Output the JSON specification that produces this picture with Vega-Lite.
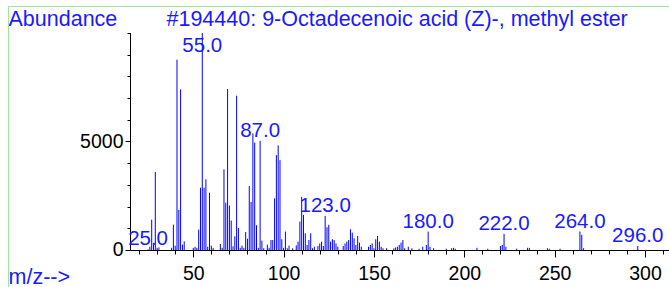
{
  "$schema": "https://vega.github.io/schema/vega-lite/v6.json",
  "width": 661,
  "height": 281,
  "autosize": "none",
  "padding": {"left": 8, "top": 6, "right": 0, "bottom": 0},
  "background": "white",
  "config": {
    "view": {"stroke": null},
    "font": "Liberation Sans",
    "axis": {"grid": false, "domain": false, "tickColor": "black", "labelColor": "black", "labelFont": "Liberation Sans", "titleFont": "Liberation Sans", "titleFontWeight": "normal", "titleColor": "#1a1aff", "titleFontSize": 21.5, "labelFontSize": 19.5, "tickWidth": 1}
  },
  "data": {
    "values": [
      {"mz": 25, "abundance": 30, "label": "25.0"},
      {"mz": 26, "abundance": 150},
      {"mz": 27, "abundance": 1400},
      {"mz": 28, "abundance": 250},
      {"mz": 29, "abundance": 3600},
      {"mz": 30, "abundance": 100},
      {"mz": 31, "abundance": 120},
      {"mz": 38, "abundance": 100},
      {"mz": 39, "abundance": 1170},
      {"mz": 40, "abundance": 200},
      {"mz": 41, "abundance": 8770},
      {"mz": 42, "abundance": 1850},
      {"mz": 43, "abundance": 7400},
      {"mz": 44, "abundance": 250},
      {"mz": 45, "abundance": 400},
      {"mz": 50, "abundance": 100},
      {"mz": 51, "abundance": 150},
      {"mz": 52, "abundance": 100},
      {"mz": 53, "abundance": 940},
      {"mz": 54, "abundance": 2870},
      {"mz": 55, "abundance": 10000, "label": "55.0"},
      {"mz": 56, "abundance": 2870},
      {"mz": 57, "abundance": 3260},
      {"mz": 58, "abundance": 150},
      {"mz": 59, "abundance": 2640},
      {"mz": 60, "abundance": 200},
      {"mz": 61, "abundance": 100},
      {"mz": 65, "abundance": 280},
      {"mz": 66, "abundance": 100},
      {"mz": 67, "abundance": 3720},
      {"mz": 68, "abundance": 2180},
      {"mz": 69, "abundance": 7420},
      {"mz": 70, "abundance": 2050},
      {"mz": 71, "abundance": 1360},
      {"mz": 72, "abundance": 170},
      {"mz": 73, "abundance": 630},
      {"mz": 74, "abundance": 7110},
      {"mz": 75, "abundance": 1020},
      {"mz": 76, "abundance": 100},
      {"mz": 77, "abundance": 200},
      {"mz": 78, "abundance": 100},
      {"mz": 79, "abundance": 830},
      {"mz": 80, "abundance": 520},
      {"mz": 81, "abundance": 2950},
      {"mz": 82, "abundance": 2220},
      {"mz": 83, "abundance": 5370},
      {"mz": 84, "abundance": 4950},
      {"mz": 85, "abundance": 1140},
      {"mz": 86, "abundance": 100},
      {"mz": 87, "abundance": 5030, "label": "87.0"},
      {"mz": 88, "abundance": 430},
      {"mz": 89, "abundance": 80},
      {"mz": 91, "abundance": 250},
      {"mz": 92, "abundance": 100},
      {"mz": 93, "abundance": 460},
      {"mz": 94, "abundance": 460},
      {"mz": 95, "abundance": 2380},
      {"mz": 96, "abundance": 4370},
      {"mz": 97, "abundance": 4820},
      {"mz": 98, "abundance": 4140},
      {"mz": 99, "abundance": 495},
      {"mz": 100, "abundance": 100},
      {"mz": 101, "abundance": 850},
      {"mz": 102, "abundance": 80},
      {"mz": 103, "abundance": 200},
      {"mz": 105, "abundance": 80},
      {"mz": 107, "abundance": 215},
      {"mz": 108, "abundance": 385},
      {"mz": 109, "abundance": 1310},
      {"mz": 110, "abundance": 2450},
      {"mz": 111, "abundance": 1620},
      {"mz": 112, "abundance": 770},
      {"mz": 113, "abundance": 230},
      {"mz": 114, "abundance": 460},
      {"mz": 115, "abundance": 770},
      {"mz": 116, "abundance": 80},
      {"mz": 117, "abundance": 150},
      {"mz": 119, "abundance": 185},
      {"mz": 120, "abundance": 300},
      {"mz": 121, "abundance": 385},
      {"mz": 122, "abundance": 185},
      {"mz": 123, "abundance": 1570, "label": "123.0"},
      {"mz": 124, "abundance": 1050},
      {"mz": 125, "abundance": 1160},
      {"mz": 126, "abundance": 385},
      {"mz": 127, "abundance": 495},
      {"mz": 128, "abundance": 460},
      {"mz": 129, "abundance": 300},
      {"mz": 130, "abundance": 150},
      {"mz": 133, "abundance": 185},
      {"mz": 134, "abundance": 300},
      {"mz": 135, "abundance": 385},
      {"mz": 136, "abundance": 460},
      {"mz": 137, "abundance": 955},
      {"mz": 138, "abundance": 800},
      {"mz": 139, "abundance": 540},
      {"mz": 140, "abundance": 230},
      {"mz": 141, "abundance": 650},
      {"mz": 142, "abundance": 340},
      {"mz": 143, "abundance": 150},
      {"mz": 147, "abundance": 150},
      {"mz": 148, "abundance": 230},
      {"mz": 149, "abundance": 300},
      {"mz": 150, "abundance": 80},
      {"mz": 151, "abundance": 495},
      {"mz": 152, "abundance": 650},
      {"mz": 153, "abundance": 385},
      {"mz": 154, "abundance": 150},
      {"mz": 155, "abundance": 80},
      {"mz": 157, "abundance": 80},
      {"mz": 161, "abundance": 80},
      {"mz": 162, "abundance": 120},
      {"mz": 163, "abundance": 150},
      {"mz": 164, "abundance": 230},
      {"mz": 165, "abundance": 340},
      {"mz": 166, "abundance": 460},
      {"mz": 167, "abundance": 80},
      {"mz": 169, "abundance": 150},
      {"mz": 171, "abundance": 80},
      {"mz": 175, "abundance": 60},
      {"mz": 177, "abundance": 150},
      {"mz": 179, "abundance": 230},
      {"mz": 180, "abundance": 850, "label": "180.0"},
      {"mz": 181, "abundance": 150},
      {"mz": 183, "abundance": 80},
      {"mz": 190, "abundance": 60},
      {"mz": 193, "abundance": 80},
      {"mz": 194, "abundance": 100},
      {"mz": 195, "abundance": 60},
      {"mz": 207, "abundance": 100},
      {"mz": 213, "abundance": 60},
      {"mz": 220, "abundance": 185},
      {"mz": 221, "abundance": 230},
      {"mz": 222, "abundance": 740, "label": "222.0"},
      {"mz": 223, "abundance": 150},
      {"mz": 229, "abundance": 60},
      {"mz": 235, "abundance": 100},
      {"mz": 236, "abundance": 100},
      {"mz": 246, "abundance": 80},
      {"mz": 247, "abundance": 60},
      {"mz": 253, "abundance": 60},
      {"mz": 264, "abundance": 850, "label": "264.0"},
      {"mz": 265, "abundance": 700},
      {"mz": 266, "abundance": 80},
      {"mz": 296, "abundance": 185, "label": "296.0"}
    ]
  },
  "layer": [
    {
      "mark": {"type": "rule", "color": "#0000ff", "strokeWidth": 1},
      "encoding": {
        "x": {
          "field": "mz", "type": "quantitative",
          "scale": {"domain": [-52.52, 313.28], "nice": false, "zero": false},
          "axis": {
            "orient": "bottom", "offset": -37,
            "values": [50, 100, 150, 200, 250, 300],
            "tickSize": 7, "labelPadding": 7, "format": "d",
            "title": "m/z-->", "titleX": 0, "titleY": 33,
            "titleAlign": "left", "titleBaseline": "alphabetic", "titleAngle": 0
          }
        },
        "y": {
          "field": "abundance", "type": "quantitative",
          "scale": {"domain": [-1705.1, 11244.2], "nice": false, "zero": false},
          "axis": {
            "orient": "left", "offset": -122,
            "values": [0, 5000],
            "tickSize": 5, "labelPadding": 2, "format": "d",
            "title": "Abundance", "titleAngle": 0, "titleX": -122, "titleY": 19,
            "titleAlign": "left", "titleBaseline": "alphabetic"
          }
        },
        "y2": {"datum": 0}
      }
    },
    {
      "data": {"values": [{"line": "x axis"}]},
      "mark": {"type": "rule", "color": "black", "strokeWidth": 1},
      "encoding": {
        "x": {"datum": 15, "type": "quantitative", "axis": null},
        "x2": {"datum": 313.28},
        "y": {"datum": -23, "type": "quantitative", "axis": null}
      }
    },
    {
      "data": {"values": [{"line": "y axis"}]},
      "mark": {"type": "rule", "color": "black", "strokeWidth": 1},
      "encoding": {
        "x": {"datum": 15.28, "type": "quantitative", "axis": null},
        "y": {"datum": 0, "type": "quantitative", "axis": null},
        "y2": {"datum": 10000}
      }
    },
    {
      "transform": [{"filter": "datum.label != null && datum.mz != 55"}],
      "mark": {"type": "text", "align": "center", "baseline": "alphabetic", "dy": -4, "fontSize": 20.5, "color": "#1a1aff", "font": "Liberation Sans"},
      "encoding": {
        "x": {"field": "mz", "type": "quantitative", "axis": null},
        "y": {"field": "abundance", "type": "quantitative", "axis": null},
        "text": {"field": "label"}
      }
    },
    {
      "transform": [{"filter": "datum.mz == 55"}],
      "mark": {"type": "text", "align": "center", "baseline": "top", "dy": 3, "fontSize": 20.5, "color": "#1a1aff", "font": "Liberation Sans"},
      "encoding": {
        "x": {"field": "mz", "type": "quantitative", "axis": null},
        "y": {"field": "abundance", "type": "quantitative", "axis": null},
        "text": {"field": "label"}
      }
    },
    {
      "transform": [{"filter": "false"}],
      "mark": {"type": "rule"},
      "encoding": {
        "x": {
          "field": "mz", "type": "quantitative",
          "axis": {
            "orient": "bottom", "offset": -37,
            "values": [20, 30, 40, 60, 70, 80, 90, 110, 120, 130, 140, 160, 170, 180, 190, 210, 220, 230, 240, 260, 270, 280, 290, 310],
            "tickSize": 4, "labels": false,
            "title": "m/z-->", "titleX": 0, "titleY": -251,
            "titleAlign": "left", "titleBaseline": "alphabetic", "titleAngle": 0
          }
        },
        "y": {
          "field": "abundance", "type": "quantitative",
          "axis": {
            "orient": "left", "offset": -122,
            "values": [1000, 2000, 3000, 4000, 6000, 7000, 8000, 9000, 10000],
            "tickSize": 3, "labels": false,
            "title": "#194440: 9-Octadecenoic acid (Z)-, methyl ester",
            "titleAngle": 0, "titleX": 36, "titleY": 19,
            "titleAlign": "left", "titleBaseline": "alphabetic"
          }
        }
      }
    },
    {
      "transform": [{"filter": "false"}],
      "mark": {"type": "rule"},
      "encoding": {
        "x": {"field": "mz", "type": "quantitative", "axis": null},
        "y": {
          "field": "abundance", "type": "quantitative",
          "axis": {"orient": "left", "offset": 0, "values": [11244], "grid": true, "gridColor": "#9de49d", "gridWidth": 1, "gridOpacity": 1, "domain": true, "domainColor": "#9de49d", "domainWidth": 1, "ticks": false, "labels": false, "title": null}
        }
      }
    }
  ],
  "resolve": {"axis": {"x": "independent", "y": "independent"}}
}
